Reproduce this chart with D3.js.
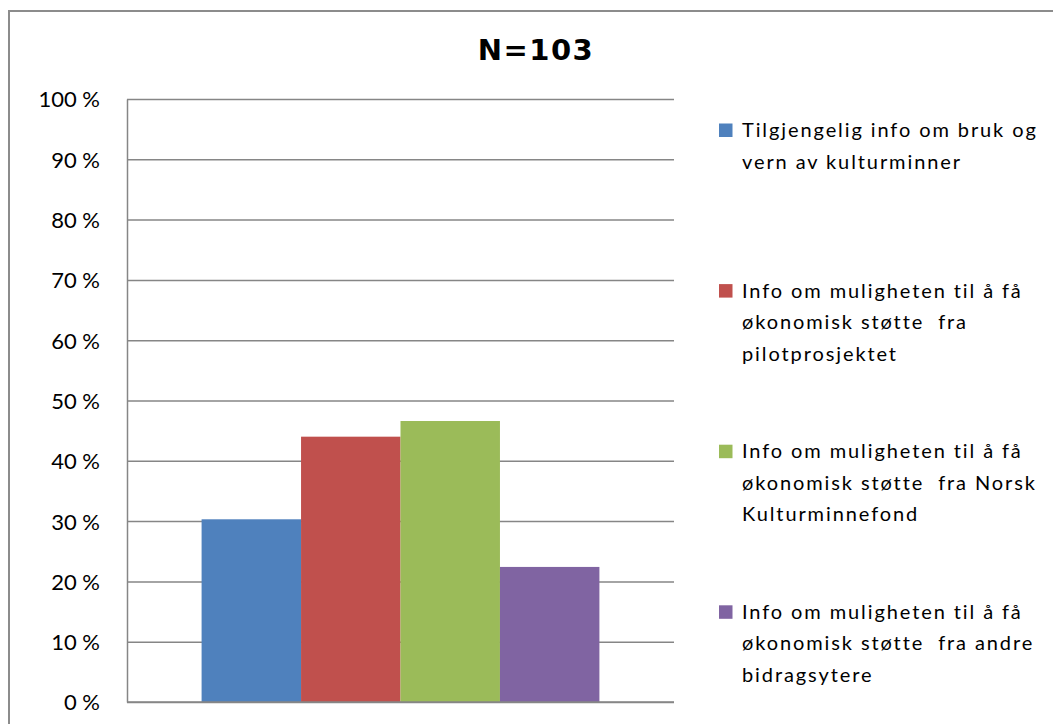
<!DOCTYPE html>
<html>
<head>
<meta charset="utf-8">
<script src="https://cdn.jsdelivr.net/npm/d3@7"></script>
<style>
  html, body { margin: 0; padding: 0; background: #fff; }
  svg { display: block; }
  text { white-space: pre; }
</style>
</head>
<body>
<svg id="chart" width="1053" height="724"></svg>
<script>
const title = "N=103";
const seriesNames = [
  "Tilgjengelig info om bruk og\nvern av kulturminner",
  "Info om muligheten til å få\nøkonomisk støtte  fra\npilotprosjektet",
  "Info om muligheten til å få\nøkonomisk støtte  fra Norsk\nKulturminnefond",
  "Info om muligheten til å få\nøkonomisk støtte  fra andre\nbidragsytere"
];
const seriesValues = [30.3, 44.0, 46.6, 22.4];
const seriesColors = ["#4F81BD", "#C0504D", "#9BBB59", "#8064A2"];
const yTicks = [0, 10, 20, 30, 40, 50, 60, 70, 80, 90, 100];

const svg = d3.select("#chart");
const font = "Lato, 'Liberation Sans', sans-serif";
const gridColor = "#868686";

// frame
svg.append("path")
  .attr("d", "M9,724 L9,11 L1053,11")
  .attr("fill", "none").attr("stroke", "#8c8c8c").attr("stroke-width", 2);

const plot = { left: 127, right: 674, top: 99, bottom: 702 };

const y = d3.scaleLinear().domain([0, 100]).range([plot.bottom, plot.top]);
const x = d3.scaleBand().domain(d3.range(seriesValues.length))
  .range([plot.left, plot.right]).paddingInner(0).paddingOuter(0.75);

// gridlines
const grid = svg.append("g").attr("transform", `translate(${plot.left},0)`)
  .call(d3.axisLeft(y).tickValues(yTicks).tickSize(-(plot.right - plot.left)).tickFormat(""));
grid.select(".domain").remove();
grid.selectAll("line").attr("stroke", gridColor).attr("stroke-width", 1.5);

// bars
svg.append("g").selectAll("rect").data(seriesValues).join("rect")
  .attr("x", (d, i) => x(i))
  .attr("width", x.bandwidth())
  .attr("y", d => y(d))
  .attr("height", d => y(0) - y(d))
  .attr("fill", (d, i) => seriesColors[i]);

// y axis
const yAxis = svg.append("g").attr("transform", `translate(${plot.left},0)`)
  .call(d3.axisLeft(y).tickValues(yTicks).tickSize(0).tickPadding(27).tickFormat(d => d + " %"));
yAxis.select(".domain").attr("stroke", gridColor).attr("stroke-width", 1.5);
yAxis.selectAll("text").attr("font-family", font).attr("font-size", 22).attr("fill", "#000")
  .attr("dy", "0.36em");

// x axis baseline
svg.append("line")
  .attr("x1", plot.left).attr("x2", plot.right)
  .attr("y1", y(0)).attr("y2", y(0))
  .attr("stroke", gridColor).attr("stroke-width", 1.5);

// title
svg.append("text")
  .attr("x", 536).attr("y", 60)
  .attr("text-anchor", "middle")
  .attr("font-family", "'DejaVu Sans', Verdana, sans-serif")
  .attr("font-weight", "bold")
  .attr("font-size", 29)
  .attr("letter-spacing", 1.5)
  .attr("fill", "#000")
  .text(title);

// legend
const legend = svg.append("g");
const items = legend.selectAll("g").data(seriesNames).join("g")
  .attr("transform", (d, i) => `translate(719,${137 + i * 160.6})`);
items.append("rect")
  .attr("x", 0).attr("y", -13.5).attr("width", 13.5).attr("height", 13.5)
  .attr("fill", (d, i) => seriesColors[i]);
items.append("text")
  .attr("font-family", font).attr("font-size", 20).attr("letter-spacing", 1.9).attr("fill", "#000")
  .selectAll("tspan").data(d => d.split("\n")).join("tspan")
  .attr("x", 23).attr("y", (d, j) => j * 31.5)
  .text(d => d);
</script>
</body>
</html>
